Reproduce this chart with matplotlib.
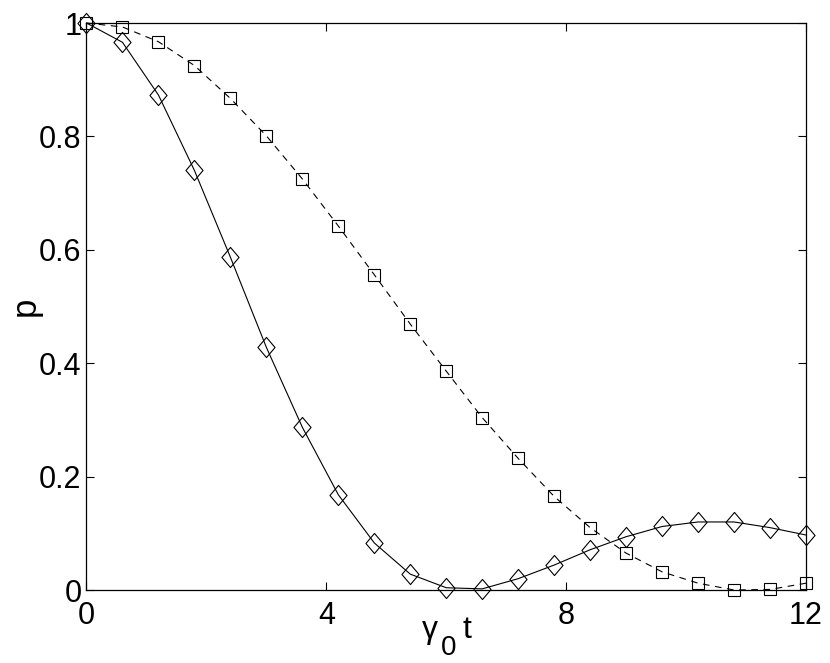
import matplotlib
matplotlib.use("Agg")
import matplotlib.pyplot as plt
from matplotlib.path import Path

plt.rcParams['font.family'] = ['Liberation Sans', 'DejaVu Sans']

t = [0.0, 0.6, 1.2, 1.8, 2.4, 3.0, 3.6, 4.2, 4.8, 5.4, 6.0, 6.6,
     7.2, 7.8, 8.4, 9.0, 9.6, 10.2, 10.8, 11.4, 12.0]
p_diamond = [1.0, 0.966, 0.873, 0.740, 0.587, 0.428, 0.287, 0.168, 0.083,
             0.028, 0.004, 0.002, 0.020, 0.044, 0.071, 0.094, 0.112,
             0.120, 0.120, 0.110, 0.097]
p_square = [1.0, 0.993, 0.967, 0.925, 0.867, 0.801, 0.725, 0.642, 0.556,
            0.469, 0.386, 0.304, 0.232, 0.165, 0.110, 0.065, 0.032,
            0.012, 0.000, 0.001, 0.012]

xticks = [0, 4, 8, 12]
yticks = [0, 0.2, 0.4, 0.6, 0.8, 1.0]
yticklabels = ['0', '0.2', '0.4', '0.6', '0.8', '1']

diamond = Path([(0, 1), (0.85, 0), (0, -1), (-0.85, 0), (0, 1)],
               [Path.MOVETO, Path.LINETO, Path.LINETO, Path.LINETO, Path.CLOSEPOLY])

fig = plt.figure(figsize=(8.3, 6.63), dpi=100)
ax = fig.add_axes([0.1042, 0.1101, 0.8669, 0.8552])

ax.plot(t, p_square, linestyle=(0, (6, 5)), color='black', linewidth=0.8,
        marker='s', markersize=9.2, markerfacecolor='none',
        markeredgecolor='black', markeredgewidth=0.8, clip_on=False)
ax.plot(t, p_diamond, linestyle='-', color='black', linewidth=0.8,
        marker=diamond, markersize=14.5, markerfacecolor='none',
        markeredgecolor='black', markeredgewidth=0.8, clip_on=False)

ax.set_xlim(0, 12)
ax.set_ylim(0, 1)
ax.set_xticks(xticks)
ax.set_xticklabels([str(x) for x in xticks])
ax.set_yticks(yticks)
ax.set_yticklabels(yticklabels)
ax.tick_params(direction='in', length=6, width=0.8, labelsize=22,
               top=True, right=True)
ax.tick_params(axis='x', pad=8)
ax.tick_params(axis='y', pad=3.5)
for s in ax.spines.values():
    s.set_linewidth(0.9)

# x label: gamma with a large, low subscript 0, then t
fig.text(0.5084, 0.0377, 'γ', fontsize=23, ha='left', va='baseline')
fig.text(0.5313, 0.0121, '0', fontsize=20, ha='left', va='baseline')
fig.text(0.5570, 0.0377, 't', fontsize=23, ha='left', va='baseline')

ax.set_ylabel('p', fontsize=25)
ax.yaxis.set_label_coords(-0.062, 0.5)

fig.savefig('out.png', dpi=100)
